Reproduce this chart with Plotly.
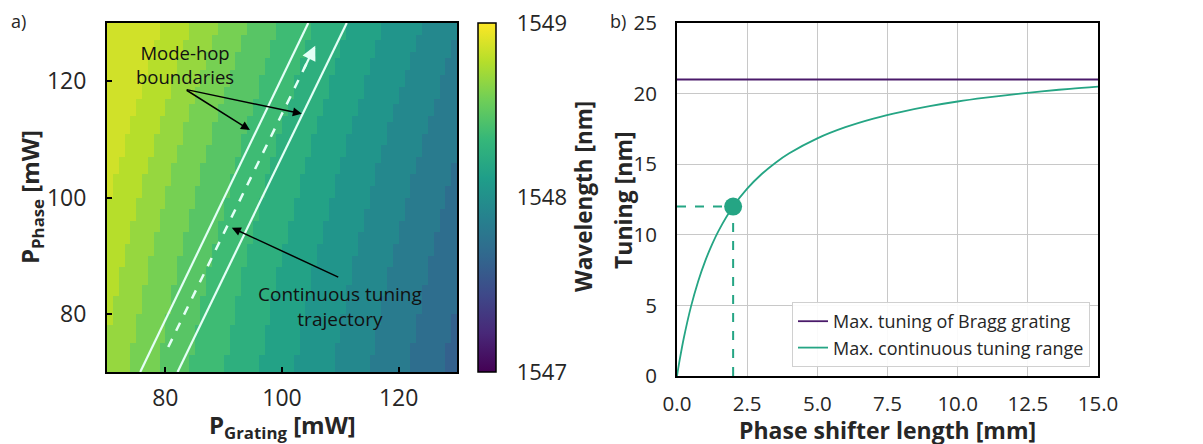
import numpy as np
import plotly.graph_objects as go

# ---------------- data: panel a) ----------------
# wavelength of each mode band (left -> right), nm
band_wavelengths_nm = [1548.86, 1548.78, 1548.68, 1548.58, 1548.47, 1548.37, 1548.26,
                       1548.15, 1548.04, 1547.94, 1547.83, 1547.72, 1547.62]
# grating power where each band boundary crosses P_phase = 100 mW
band_edges_at_100mW = [70.5, 75.5, 80.0, 85.0, 90.5, 96.5, 102.5, 108.5, 115.0, 121.5, 128.0, 134.0]
band_edge_tilt = 0.26      # mW grating per mW phase
band_edge_bend = 0.0015    # curvature of the boundaries
grating_power_mW = np.arange(70.5, 130.0, 1.0)
phase_power_mW = np.arange(70.5, 130.0, 1.0)

# white mode-hop boundaries and trajectory
hop_left_x = [75.7, 104.5]
hop_left_y = [70.0, 130.0]
hop_right_x = [82.1, 111.1]
hop_right_y = [70.0, 130.0]
trajectory_x = [80.5, 105.7]
trajectory_y = [74.3, 126.1]

colorbar_ticks = [1547, 1548, 1549]

# ---------------- data: panel b) ----------------
length_mm = [0, 0.1, 0.25, 0.5, 0.75, 1.0, 1.25, 1.5, 2.0, 2.5, 3.0, 3.5, 4.0, 5.0,
             6.0, 7.0, 8.0, 9.0, 10.0, 11.0, 12.0, 13.0, 14.0, 15.0]
tuning_nm = [0, 1.19, 2.76, 4.93, 6.68, 8.12, 9.32, 10.35, 12.0, 13.27, 14.27, 15.09,
             15.77, 16.83, 17.62, 18.23, 18.71, 19.11, 19.44, 19.71, 19.95, 20.16, 20.34, 20.49]
bragg_x = [0, 15]
bragg_y = [21, 21]
op_length = [2.0]
op_tuning = [12.0]

# ---------------- build heatmap grid ----------------
gx, gy = np.meshgrid(grating_power_mW, phase_power_mW)
shifted = gx - band_edge_tilt * (gy - 100.0) - band_edge_bend * (gy - 100.0) ** 2
idx = np.searchsorted(np.array(band_edges_at_100mW), shifted)
z = np.array(band_wavelengths_nm)[idx]

W, H = 1203, 444
OFF = 8  # page body margin offset
def px(x):
    return (x - OFF) / W
def py(y):
    return 1 - (y - OFF) / H

FONT = "Open Sans"
TXT = "#262626"
GREEN = "#25a584"
PURPLE = "#4a1a6a"
WHITE_LINE = "#e4fff6"

fig = go.Figure()

fig.add_trace(go.Heatmap(
    x=grating_power_mW, y=phase_power_mW, z=z,
    colorscale="Viridis", zmin=1547, zmax=1549,
    xaxis="x", yaxis="y", showscale=True, hoverinfo="skip",
    colorbar=dict(
        x=px(478), xanchor="left", y=py(23), yanchor="top",
        len=(372 - 23) / H, lenmode="fraction", thickness=18,
        xpad=0, ypad=0, outlinewidth=1.5, outlinecolor="black",
        tickmode="array", tickvals=colorbar_ticks, ticktext=[str(t) for t in colorbar_ticks],
        ticks="outside", ticklen=16, tickcolor="rgba(0,0,0,0)",
        ticklabeloverflow="allow",
        tickfont=dict(size=22, color=TXT, family=FONT),
    ),
))

for xs, ys in [(hop_left_x, hop_left_y), (hop_right_x, hop_right_y)]:
    fig.add_trace(go.Scatter(x=xs, y=ys, mode="lines", xaxis="x", yaxis="y",
                             line=dict(color=WHITE_LINE, width=2.2),
                             showlegend=False, hoverinfo="skip"))
fig.add_trace(go.Scatter(x=trajectory_x, y=trajectory_y, mode="lines", xaxis="x", yaxis="y",
                         line=dict(color=WHITE_LINE, width=2.5, dash="dash"),
                         showlegend=False, hoverinfo="skip"))

# panel b traces
fig.add_trace(go.Scatter(x=bragg_x, y=bragg_y, mode="lines", xaxis="x2", yaxis="y2",
                         line=dict(color=PURPLE, width=1.8),
                         name="Max. tuning of Bragg grating"))
fig.add_trace(go.Scatter(x=length_mm, y=tuning_nm, mode="lines", xaxis="x2", yaxis="y2",
                         line=dict(color=GREEN, width=1.8, shape="spline"),
                         name="Max. continuous tuning range"))
fig.add_trace(go.Scatter(x=[0, op_length[0]], y=[op_tuning[0], op_tuning[0]], mode="lines",
                         xaxis="x2", yaxis="y2", line=dict(color=GREEN, width=2, dash="dash"),
                         showlegend=False, hoverinfo="skip"))
fig.add_trace(go.Scatter(x=[op_length[0], op_length[0]], y=[0, op_tuning[0]], mode="lines",
                         xaxis="x2", yaxis="y2", line=dict(color=GREEN, width=2, dash="dash"),
                         showlegend=False, hoverinfo="skip"))
fig.add_trace(go.Scatter(x=op_length, y=op_tuning, mode="markers", xaxis="x2", yaxis="y2",
                         marker=dict(color=GREEN, size=18), showlegend=False, hoverinfo="skip"))

ann = []
# arrowhead on trajectory
dx = trajectory_x[1] - trajectory_x[0]
dy = trajectory_y[1] - trajectory_y[0]
ann.append(dict(x=trajectory_x[1], y=trajectory_y[1], xref="x", yref="y",
                ax=trajectory_x[1] - 0.08 * dx, ay=trajectory_y[1] - 0.08 * dy,
                axref="x", ayref="y", text="", showarrow=True, arrowhead=2,
                arrowsize=1.3, arrowwidth=2.2, arrowcolor=WHITE_LINE))
# text annotations with arrows
ann.append(dict(x=83.4, y=122.8, xref="x", yref="y", text="Mode-hop<br>boundaries",
                xanchor="center", yanchor="middle",
                showarrow=False, font=dict(size=18.5, color="#111", family=FONT)))
ann.append(dict(x=94.5, y=111.6, xref="x", yref="y", ax=83.4, ay=118.6, axref="x", ayref="y",
                text="", showarrow=True, arrowhead=2, arrowsize=1.2, arrowwidth=1.5, arrowcolor="black"))
ann.append(dict(x=103.4, y=114.4, xref="x", yref="y", ax=83.4, ay=118.6, axref="x", ayref="y",
                text="", showarrow=True, arrowhead=2, arrowsize=1.2, arrowwidth=1.5, arrowcolor="black"))
ann.append(dict(x=109.9, y=81.3, xref="x", yref="y", text="Continuous tuning<br>trajectory",
                xanchor="center", yanchor="middle",
                showarrow=False, font=dict(size=19, color="#111", family=FONT)))
ann.append(dict(x=91.4, y=94.8, xref="x", yref="y", ax=109.9, ay=86.2, axref="x", ayref="y",
                text="", showarrow=True, arrowhead=2, arrowsize=1.2, arrowwidth=1.5, arrowcolor="black"))


def title(x, y, text, size, angle=0):
    return dict(x=px(x), y=py(y), xref="paper", yref="paper", showarrow=False,
                xanchor="center", yanchor="middle", textangle=angle, text=text,
                font=dict(size=size, color=TXT, family=FONT))


ann.append(title(282, 426, "<b>P<sub>Grating</sub> [mW]</b>", 24))
ann.append(title(31, 197, "<b>P<sub>Phase</sub> [mW]</b>", 24, -90))
ann.append(title(583, 197, "<b>Wavelength [nm]</b>", 22.5, -90))
ann.append(title(623, 200, "<b>Tuning [nm]</b>", 23, -90))
ann.append(title(887, 430, "<b>Phase shifter length [mm]</b>", 23))
ann.append(title(18, 21, "a)", 18))
ann.append(title(618, 21, "b)", 18))

axis_common = dict(showline=True, mirror=True, linecolor="black", linewidth=2,
                   zeroline=False, automargin=False)

fig.update_layout(
    width=W, height=H, margin=dict(l=0, r=0, t=0, b=0, autoexpand=False),
    paper_bgcolor="white", plot_bgcolor="white",
    font=dict(family=FONT, color=TXT),
    xaxis=dict(domain=[px(107), px(457)], range=[70, 130], tickvals=[80, 100, 120],
               ticks="inside", ticklen=5, tickwidth=1.5, tickcolor="black", showgrid=False,
               anchor="y", ticklabelstandoff=4, tickfont=dict(size=23, color=TXT, family=FONT),
               **axis_common),
    yaxis=dict(domain=[py(372), py(23)], range=[70, 130], tickvals=[80, 100, 120],
               ticks="inside", ticklen=5, tickwidth=1.5, tickcolor="black", showgrid=False,
               anchor="x", ticklabelstandoff=14, tickfont=dict(size=23, color=TXT, family=FONT),
               **axis_common),
    xaxis2=dict(domain=[px(677), px(1098)], range=[0, 15], tickvals=[0, 2.5, 5, 7.5, 10, 12.5, 15],
                ticktext=["0.0", "2.5", "5.0", "7.5", "10.0", "12.5", "15.0"],
                ticks="", showgrid=True, gridcolor="#c8c8c8", gridwidth=1, anchor="y2",
                ticklabelstandoff=8, tickfont=dict(size=20.5, color=TXT, family=FONT),
                **axis_common),
    yaxis2=dict(domain=[py(376), py(23)], range=[0, 25], tickvals=[0, 5, 10, 15, 20, 25],
                ticks="", showgrid=True, gridcolor="#c8c8c8", gridwidth=1, anchor="x2",
                ticklabelstandoff=14, tickfont=dict(size=20.5, color=TXT, family=FONT),
                **axis_common),
    legend=dict(x=px(792), y=py(367), xanchor="left", yanchor="bottom",
                bgcolor="rgba(255,255,255,0.9)", bordercolor="#d0d0d0", borderwidth=1,
                font=dict(size=18, color=TXT, family=FONT), tracegroupgap=2),
    annotations=ann,
    showlegend=True,
)

fig.write_html("out.html")
